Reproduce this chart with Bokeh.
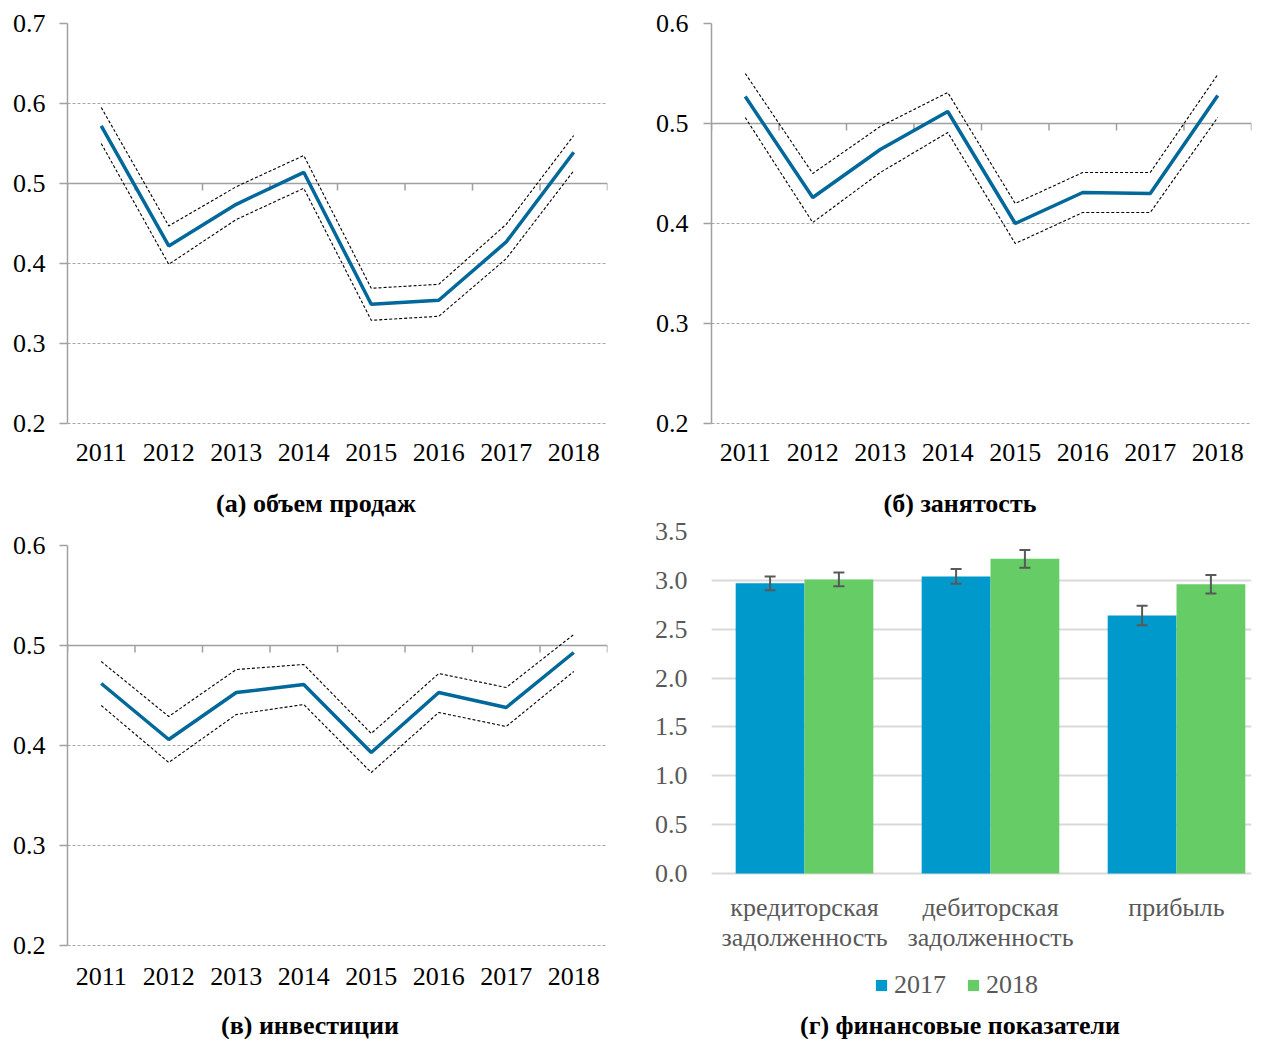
from bokeh.plotting import figure
from bokeh.models import (Range1d, FixedTicker, PrintfTickFormatter, Span, Label,
                          ColumnDataSource, Whisker, TeeHead, Legend, LegendItem)
from bokeh.layouts import column, row
from bokeh.embed import file_html
from bokeh.resources import INLINE

FONT = "Liberation Serif"

# ---------------- data ----------------
years = ["2011", "2012", "2013", "2014", "2015", "2016", "2017", "2018"]

sales_mid = [0.572, 0.422, 0.474, 0.514, 0.349, 0.354, 0.427, 0.539]
sales_hi = [0.595, 0.447, 0.496, 0.535, 0.369, 0.374, 0.449, 0.560]
sales_lo = [0.550, 0.399, 0.455, 0.494, 0.329, 0.334, 0.406, 0.516]

empl_mid = [0.527, 0.426, 0.474, 0.512, 0.400, 0.431, 0.430, 0.528]
empl_hi = [0.550, 0.450, 0.497, 0.531, 0.420, 0.451, 0.451, 0.549]
empl_lo = [0.506, 0.401, 0.451, 0.491, 0.380, 0.411, 0.411, 0.506]

inv_mid = [0.462, 0.406, 0.453, 0.461, 0.393, 0.453, 0.438, 0.493]
inv_hi = [0.484, 0.429, 0.476, 0.481, 0.412, 0.472, 0.458, 0.511]
inv_lo = [0.440, 0.383, 0.431, 0.441, 0.373, 0.433, 0.419, 0.474]

sales_ticks = [0.2, 0.3, 0.4, 0.5, 0.6, 0.7]
empl_ticks = [0.2, 0.3, 0.4, 0.5, 0.6]
inv_ticks = [0.2, 0.3, 0.4, 0.5, 0.6]
cross_value = 0.5

fin_categories = ["кредиторская\nзадолженность", "дебиторская\nзадолженность", "прибыль"]
fin_2017 = [2.97, 3.04, 2.64]
fin_2018 = [3.01, 3.22, 2.96]
err_2017 = [0.07, 0.075, 0.10]
err_2018 = [0.07, 0.09, 0.095]
fin_ticks = [0.0, 0.5, 1.0, 1.5, 2.0, 2.5, 3.0, 3.5]
legend_labels = ["2017", "2018"]

titles = ["(а) объем продаж", "(б) занятость", "(в) инвестиции", "(г) финансовые показатели"]

# ---------------- styles ----------------
LINE = "#00689A"
GRID = "#A6A6A6"
AXIS = "#A0A0A0"
BLUE = "#0099CC"
GREEN = "#66CC66"
ERR = "#595959"
LABEL_GRAY = "#595959"
FS = "26px"

VALUE_H = 400        # pixel height of the value span in the line panels
CAT_W = 67.5         # pixel width of one year category


def line_panel(mid, hi, lo, ticks, title, title_cx, width, height, mb_left,
               mb_right, mb_top, y_standoff, x_standoff):
    n = len(years)
    xs = list(range(n))
    frame_h = height - mb_top
    lo_v, hi_v = ticks[0], ticks[-1]
    per_px = (hi_v - lo_v) / VALUE_H
    y_start = hi_v - per_px * frame_h
    p = figure(width=width, height=height, x_range=Range1d(-0.5, n - 0.5),
               y_range=Range1d(y_start, hi_v), output_backend="svg",
               toolbar_location=None, min_border_left=mb_left,
               min_border_right=mb_right, min_border_top=mb_top,
               min_border_bottom=0)
    p.outline_line_color = None
    p.background_fill_color = "white"
    p.border_fill_color = "white"
    p.xgrid.visible = False
    p.ygrid.ticker = FixedTicker(ticks=ticks)
    p.ygrid.grid_line_color = GRID
    p.ygrid.grid_line_dash = "3 2"
    p.ygrid.grid_line_width = 1

    yax = p.yaxis[0]
    yax.bounds = (lo_v, hi_v)
    yax.ticker = FixedTicker(ticks=ticks)
    yax.formatter = PrintfTickFormatter(format="%.1f")
    yax.axis_line_color = AXIS
    yax.axis_line_width = 1.5
    yax.major_tick_line_color = AXIS
    yax.major_tick_line_width = 1.5
    yax.major_tick_out = 8
    yax.major_tick_in = 0
    yax.minor_tick_line_color = None
    yax.major_label_text_font = FONT
    yax.major_label_text_font_size = FS
    yax.major_label_text_color = "black"
    yax.major_label_standoff = y_standoff

    xax = p.xaxis[0]
    xax.fixed_location = lo_v
    xax.ticker = FixedTicker(ticks=xs)
    xax.major_label_overrides = {i: y for i, y in enumerate(years)}
    xax.axis_line_color = None
    xax.major_tick_line_color = None
    xax.minor_tick_line_color = None
    xax.major_label_text_font = FONT
    xax.major_label_text_font_size = FS
    xax.major_label_text_color = "black"
    xax.major_label_standoff = x_standoff

    # horizontal category axis crossing at 0.5
    p.add_layout(Span(location=cross_value, dimension="width", line_color=AXIS,
                      line_width=1.5, level="underlay"))
    bounds = [i - 0.5 for i in range(n + 1)]
    tl = 7 * per_px
    p.segment(x0=bounds, y0=[cross_value] * len(bounds), x1=bounds,
              y1=[cross_value - tl] * len(bounds), line_color=AXIS, line_width=1.5)

    p.line(xs, hi, line_color="black", line_width=1.1, line_dash="3 2")
    p.line(xs, lo, line_color="black", line_width=1.1, line_dash="3 2")
    p.line(xs, mid, line_color=LINE, line_width=3.5)

    # panel caption, 80 px below the lowest value line
    p.add_layout(Label(x=(title_cx - mb_left) / CAT_W - 0.5, y=lo_v - 80 * per_px,
                       text=title, text_font=FONT, text_font_size=FS,
                       text_font_style="bold", text_color="black",
                       text_align="center", text_baseline="middle"))
    return p


pa = line_panel(sales_mid, sales_hi, sales_lo, sales_ticks, titles[0], 315.5,
                640, 525, 67, 33, 23, 14, 14)
pb = line_panel(empl_mid, empl_hi, empl_lo, empl_ticks, titles[1], 959.5 - 640,
                621, 518, 71, 10, 23, 15, 14)
pc = line_panel(inv_mid, inv_hi, inv_lo, inv_ticks, titles[2], 309.5,
                640, 514, 67, 33, 20, 14, 16)

# ---------------- panel (г) ----------------
nc = len(fin_categories)
cx = list(range(nc))
half = 0.185
src = ColumnDataSource(dict(
    x17=[c - half for c in cx], x18=[c + half for c in cx],
    v17=fin_2017, v18=fin_2018,
    u17=[v + e for v, e in zip(fin_2017, err_2017)],
    l17=[v - e for v, e in zip(fin_2017, err_2017)],
    u18=[v + e for v, e in zip(fin_2018, err_2018)],
    l18=[v - e for v, e in zip(fin_2018, err_2018)],
))

D_H = 521
D_TOP = 13
D_VALUE_H = 342
D_CAT_W = 186.0
d_frame_h = D_H - D_TOP
d_per_px = (fin_ticks[-1] - fin_ticks[0]) / D_VALUE_H
d_y_start = fin_ticks[-1] - d_per_px * d_frame_h
d_x_end = -0.5 + 540 / D_CAT_W

pd_ = figure(width=621, height=D_H, x_range=Range1d(-0.5, d_x_end),
             y_range=Range1d(d_y_start, fin_ticks[-1]), output_backend="svg",
             toolbar_location=None, min_border_left=71, min_border_right=10,
             min_border_top=D_TOP, min_border_bottom=0)
pd_.outline_line_color = None
pd_.xgrid.visible = False
pd_.ygrid.ticker = FixedTicker(ticks=fin_ticks)
pd_.ygrid.grid_line_color = "#D9D9D9"
pd_.ygrid.grid_line_width = 2

r17 = pd_.vbar(x="x17", top="v17", width=2 * half, source=src,
               fill_color=BLUE, line_color=None)
r18 = pd_.vbar(x="x18", top="v18", width=2 * half, source=src,
               fill_color=GREEN, line_color=None)

for b, u, l in (("x17", "u17", "l17"), ("x18", "u18", "l18")):
    w = Whisker(source=src, base=b, upper=u, lower=l, line_color=ERR,
                line_width=2, level="annotation",
                upper_head=TeeHead(size=11, line_color=ERR, line_width=2),
                lower_head=TeeHead(size=11, line_color=ERR, line_width=2))
    pd_.add_layout(w)

yd = pd_.yaxis[0]
yd.bounds = (fin_ticks[0], fin_ticks[-1])
yd.ticker = FixedTicker(ticks=fin_ticks)
yd.formatter = PrintfTickFormatter(format="%.1f")
yd.axis_line_color = None
yd.major_tick_line_color = None
yd.minor_tick_line_color = None
yd.major_label_text_font = FONT
yd.major_label_text_font_size = FS
yd.major_label_text_color = LABEL_GRAY
yd.major_label_standoff = 18

xd = pd_.xaxis[0]
xd.fixed_location = fin_ticks[0]
xd.ticker = FixedTicker(ticks=cx)
xd.major_label_overrides = {i: c for i, c in enumerate(fin_categories)}
xd.axis_line_color = None
xd.major_tick_line_color = None
xd.minor_tick_line_color = None
xd.major_label_text_font = FONT
xd.major_label_text_font_size = FS
xd.major_label_text_color = LABEL_GRAY
xd.major_label_text_line_height = 1.05
xd.major_label_standoff = 13

legend = Legend(items=[LegendItem(label=legend_labels[0], renderers=[r17]),
                       LegendItem(label=legend_labels[1], renderers=[r18])],
                orientation="horizontal", location=(163, 39),
                label_text_font=FONT, label_text_font_size=FS,
                label_text_color=LABEL_GRAY, glyph_width=14, glyph_height=14,
                label_standoff=6, spacing=20, padding=0, margin=0,
                border_line_color=None, background_fill_alpha=0)
pd_.add_layout(legend)

pd_.add_layout(Label(x=(959.5 - 711) / D_CAT_W - 0.5,
                     y=fin_ticks[0] - (1025 - 873) * d_per_px,
                     text=titles[3], text_font=FONT, text_font_size=FS,
                     text_font_style="bold", text_color="black",
                     text_align="center", text_baseline="middle"))

layout = row(column(pa, pc), column(pb, pd_))

open("out.html", "w").write(file_html(layout, INLINE))
